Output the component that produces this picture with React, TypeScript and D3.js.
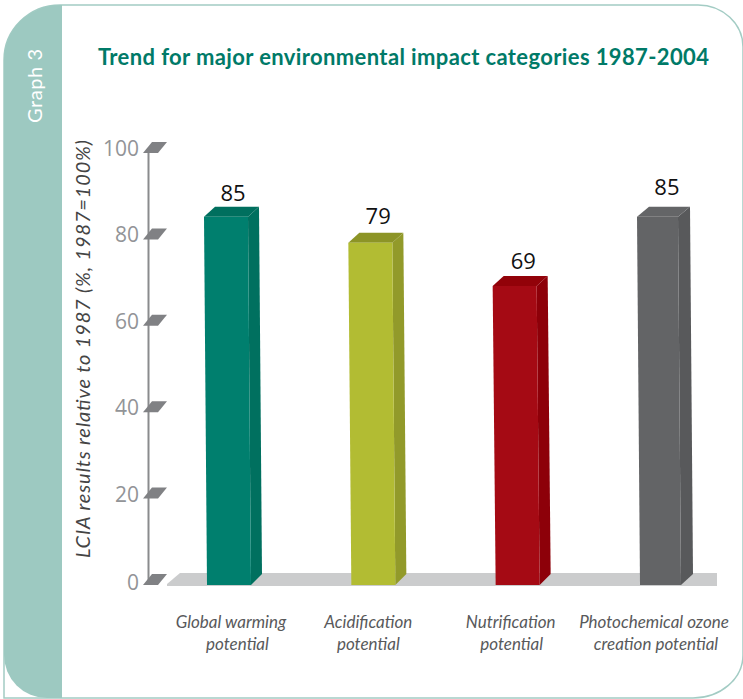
import React from "react";
import * as d3 from "d3";

const categories = ["Global warming", "Acidification", "Nutrification", "Photochemical ozone"];
const secondLines = ["potential", "potential", "potential", "creation potential"];
const values = [85, 79, 69, 85];
const labelHeights = [88.7, 83.3, 72.9, 90];
const ticks = [0, 20, 40, 60, 80, 100];
const frontColors = ["#007f6e", "#b2bc33", "#a50a14", "#636466"];
const sideColors = ["#00705f", "#929a2a", "#8d0009", "#58595b"];
const topColors = ["#006f5e", "#8c9426", "#920209", "#646567"];

const y = d3.scaleLinear().domain([0, 100]).range([584, 152]);
const x = d3.scaleLinear().domain([0, 3]).range([207, 640]);
const FONT = "'Open Sans', 'Noto Sans', sans-serif";
const LATO = "Lato, 'Open Sans', sans-serif";
const poly = (pts: [number, number][]) => d3.line()(pts) + "Z";

// horizontal nudges of the caption lines relative to each bar
const line1Shift = [2, -5, -7, -8];
const line2Shift = [8.5, -5, -6, -6];

export default function App() {
  const depthX = 11;
  const depthY = 10;
  return (
    <svg width={743} height={699} style={{ position: "absolute", left: 0, top: 0 }}>
      <path d="M4 698 L4 60 A56 55 0 0 1 60 5 L698 5 A45 42 0 0 1 743 47 L743 655 A50 43 0 0 1 693 698 Z" fill="#fff" stroke="#a3ccc4" strokeWidth={1.5} />
      <path d="M62 5 L62 698 L47 698 A43 43 0 0 1 4 655 L4 60 A56 55 0 0 1 60 5 Z" fill="#9dc9c1" />
      <text transform="translate(42,123) rotate(-90)" fill="#fff" fontFamily={LATO} fontSize={20} textLength={74} lengthAdjust="spacing">Graph 3</text>
      <text x={98} y={65} fill="#007a68" fontFamily={LATO} fontSize={22} fontWeight={700} textLength={611} lengthAdjust="spacing">Trend for major environmental impact categories 1987-2004</text>

      <path d={poly([[167, 584], [180, 573], [717, 573], [717, 586], [167, 586]])} fill="#cbcccd" />
      <line x1={148.5} x2={148.5} y1={y(100)} y2={y(0)} stroke="#8a8b8d" strokeWidth={2} />
      {ticks.map((t) => (
        <g key={t}>
          <path d={poly([[143, y(t) + 1], [152, y(t) - 10], [167, y(t) - 10], [158, y(t) + 1]])} fill="#808184" />
          <text x={139} y={y(t) + 4 + (t === 0 ? 2 : 0)} textAnchor="end" fill="#929497" fontFamily={FONT} fontSize={21}>{t}</text>
        </g>
      ))}
      <text transform="translate(90,558) rotate(-90)" fill="#444" fontFamily={LATO} fontSize={20} fontStyle="italic" textLength={418} lengthAdjust="spacing">LCIA results relative to 1987 (%, 1987=100%)</text>

      {values.map((v, i) => {
        const bx = x(i);
        const top = y(v);
        const base = y(0) + 1;
        const skew = 3;
        const wd = i === 3 ? 41 : 44;
        const dx = i === 3 ? 12 : depthX;
        const c = bx + 22;
        return (
          <g key={i}>
            <path d={poly([[bx - skew + wd, top], [bx - skew + wd + dx, top - depthY], [bx + wd + dx, base - 11], [bx + wd, base]])} fill={sideColors[i]} />
            <path d={poly([[bx - skew, top], [bx - skew + dx, top - depthY], [bx - skew + wd + dx, top - depthY], [bx - skew + wd, top]])} fill={topColors[i]} />
            <path d={poly([[bx - skew, top], [bx - skew + wd, top], [bx + wd, base], [bx, base]])} fill={frontColors[i]} />
            <text x={bx + wd / 2 + 4 + i * 0.8} y={y(labelHeights[i])} textAnchor="middle" fill="#111" fontFamily={FONT} fontSize={22}>{v}</text>
            <text textAnchor="middle" fill="#58595b" fontFamily={LATO} fontSize={17} fontStyle="italic">
              <tspan x={c + line1Shift[i]} y={628}>{categories[i]}</tspan>
              <tspan x={c + line2Shift[i]} y={650}>{secondLines[i]}</tspan>
            </text>
          </g>
        );
      })}
    </svg>
  );
}
